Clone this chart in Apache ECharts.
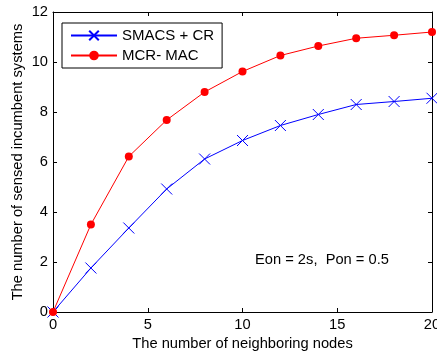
<!DOCTYPE html>
<html>
<head>
<meta charset="utf-8">
<script src="https://cdn.jsdelivr.net/npm/echarts@6/dist/echarts.min.js"></script>
<style>
  html, body { margin: 0; padding: 0; background: #fff; }
  #chart { width: 437px; height: 354px; }
</style>
</head>
<body>
<div id="chart"></div>
<script>
// neighbouring nodes on the x axis
const nodes = [0, 2, 4, 6, 8, 10, 12, 14, 16, 18, 20];
// sensed incumbent systems
const smacsCr = [0, 1.76, 3.36, 4.92, 6.12, 6.86, 7.46, 7.9, 8.3, 8.42, 8.55];
const mcrMac = [0, 3.5, 6.22, 7.68, 8.8, 9.62, 10.26, 10.64, 10.95, 11.07, 11.2];
const seriesNames = ['SMACS + CR', 'MCR- MAC'];
const note = 'Eon = 2s,  Pon = 0.5';

const font = 'Liberation Sans, Arial, sans-serif';
const fs = 14.7;
const chart = echarts.init(document.getElementById('chart'));

const pairs = arr => nodes.map((x, i) => [x, arr[i]]);

const boxAxis = {
  min: 0,
  axisLine: { show: true, onZero: false, lineStyle: { color: '#000', width: 1 } },
  axisTick: { show: true, inside: true, length: 4, lineStyle: { color: '#000' } },
  splitLine: { show: false }
};

const option = {
  animation: false,
  backgroundColor: '#fff',
  grid: { left: 53, right: 5, top: 12, bottom: 42, outerBoundsMode: 'none', containLabel: false },
  legend: {
    left: 62,
    top: 23,
    orient: 'vertical',
    backgroundColor: '#fff',
    borderColor: '#000',
    borderWidth: 1,
    borderRadius: 0,
    padding: [5, 8, 5, 8],
    itemGap: 5,
    itemWidth: 46,
    itemHeight: 12,
    textStyle: { fontFamily: font, fontSize: 15, color: '#000' },
    data: seriesNames
  },
  xAxis: [
    Object.assign({}, boxAxis, {
      type: 'value',
      max: 20,
      interval: 5,
      name: 'The number of neighboring nodes',
      nameLocation: 'middle',
      nameGap: 23,
      nameTextStyle: { fontFamily: font, fontSize: fs, color: '#000' },
      axisLabel: { fontFamily: font, fontSize: fs, color: '#000', margin: 5 }
    }),
    Object.assign({}, boxAxis, {
      type: 'value',
      position: 'top',
      max: 20,
      interval: 5,
      axisLabel: { show: false }
    })
  ],
  yAxis: [
    Object.assign({}, boxAxis, {
      type: 'value',
      max: 12,
      interval: 2,
      name: 'The number of sensed incumbent systems',
      nameLocation: 'middle',
      nameGap: 28,
      nameMoveOverlap: false,
      nameTextStyle: { fontFamily: font, fontSize: fs, color: '#000' },
      axisLabel: { fontFamily: font, fontSize: fs, color: '#000', margin: 5 }
    }),
    Object.assign({}, boxAxis, {
      type: 'value',
      position: 'right',
      max: 12,
      interval: 2,
      axisLabel: { show: false }
    })
  ],
  graphic: [
    {
      type: 'text',
      left: 255,
      top: 252,
      style: { text: note, fontFamily: font, fontSize: fs, fill: '#000' }
    }
  ],
  series: [
    {
      name: seriesNames[0],
      type: 'line',
      data: pairs(smacsCr),
      symbol: 'path://M0,0L10,10M10,0L0,10',
      symbolSize: 11,
      showSymbol: true,
      clip: false,
      lineStyle: { color: '#0000ff', width: 1 },
      itemStyle: { color: 'none', borderColor: '#0000ff', borderWidth: 1 },
      z: 3
    },
    {
      name: seriesNames[1],
      type: 'line',
      data: pairs(mcrMac),
      symbol: 'circle',
      symbolSize: 8,
      showSymbol: true,
      clip: false,
      lineStyle: { color: '#ff0000', width: 1 },
      itemStyle: { color: '#ff0000', borderColor: '#ff0000', borderWidth: 0 },
      z: 4
    }
  ]
};

chart.setOption(option);
</script>
</body>
</html>
